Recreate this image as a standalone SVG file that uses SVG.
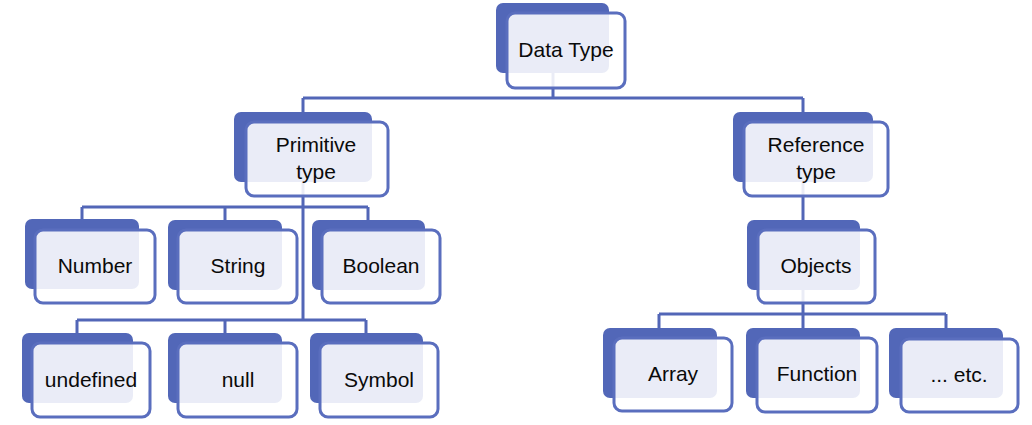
<svg xmlns="http://www.w3.org/2000/svg" width="1032" height="425" viewBox="0 0 1032 425">
  <style>
    .link { fill: none; stroke: #5266b7; stroke-width: 3; }
    .back { fill: #5267b8; }
    .front { fill: #ffffff; fill-opacity: 0.88; stroke: #5a6ebe; stroke-width: 3; }
    .label { font-family: "Liberation Sans", Arial, sans-serif; font-size: 21px; fill: #0a0a0a; text-anchor: middle; }
  </style>
  <rect width="1032" height="425" fill="#ffffff"/>

  <!-- tree connectors, drawn beneath the boxes -->
  <g id="connectors">
    <path class="link" d="M553 60 V98 M303 98 H803 M303 98 V113 M803 98 V113"/>
    <path class="link" d="M303 160 V320 M82 207 H368 M82 207 V221 M225 207 V221 M368 207 V221"/>
    <path class="link" d="M77 320 H366 M77 320 V334 M225 320 V334 M366 320 V334"/>
    <path class="link" d="M803 160 V221"/>
    <path class="link" d="M803 270 V314 M659 314 H946 M659 314 V329 M803 314 V329 M946 314 V329"/>
  </g>

  <g id="data-type">
    <rect class="back" x="496" y="3" width="113" height="70" rx="7"/>
    <rect class="front" x="507" y="13" width="118" height="75" rx="8"/>
    <text class="label" x="566" y="57">Data Type</text>
  </g>

  <g id="primitive-type">
    <rect class="back" x="234" y="112" width="138" height="70" rx="7"/>
    <rect class="front" x="246" y="122" width="142" height="74" rx="8"/>
    <text class="label" x="316" y="152">Primitive</text>
    <text class="label" x="316" y="179">type</text>
  </g>

  <g id="reference-type">
    <rect class="back" x="733" y="112" width="140" height="70" rx="7"/>
    <rect class="front" x="744" y="122" width="144" height="74" rx="8"/>
    <text class="label" x="816" y="152">Reference</text>
    <text class="label" x="816" y="179">type</text>
  </g>

  <g id="number">
    <rect class="back" x="25" y="219" width="114" height="70" rx="7"/>
    <rect class="front" x="35" y="230" width="120" height="73" rx="8"/>
    <text class="label" x="95" y="273">Number</text>
  </g>

  <g id="string">
    <rect class="back" x="168" y="220" width="114" height="70" rx="7"/>
    <rect class="front" x="178" y="230" width="119" height="73" rx="8"/>
    <text class="label" x="238" y="273">String</text>
  </g>

  <g id="boolean">
    <rect class="back" x="312" y="220" width="113" height="70" rx="7"/>
    <rect class="front" x="322" y="230" width="118" height="73" rx="8"/>
    <text class="label" x="381" y="273">Boolean</text>
  </g>

  <g id="objects">
    <rect class="back" x="747" y="220" width="113" height="70" rx="7"/>
    <rect class="front" x="758" y="230" width="117" height="73" rx="8"/>
    <text class="label" x="816" y="273">Objects</text>
  </g>

  <g id="undefined">
    <rect class="back" x="22" y="333" width="111" height="70" rx="7"/>
    <rect class="front" x="32" y="343" width="118" height="74" rx="8"/>
    <text class="label" x="91" y="387">undefined</text>
  </g>

  <g id="null">
    <rect class="back" x="168" y="333" width="114" height="70" rx="7"/>
    <rect class="front" x="178" y="343" width="119" height="74" rx="8"/>
    <text class="label" x="238" y="387">null</text>
  </g>

  <g id="symbol">
    <rect class="back" x="310" y="333" width="113" height="70" rx="7"/>
    <rect class="front" x="320" y="343" width="118" height="74" rx="8"/>
    <text class="label" x="379" y="387">Symbol</text>
  </g>

  <g id="array">
    <rect class="back" x="603" y="328" width="114" height="70" rx="7"/>
    <rect class="front" x="614" y="338" width="118" height="73" rx="8"/>
    <text class="label" x="673" y="381">Array</text>
  </g>

  <g id="function">
    <rect class="back" x="746" y="328" width="114" height="70" rx="7"/>
    <rect class="front" x="757" y="338" width="120" height="74" rx="8"/>
    <text class="label" x="817" y="381">Function</text>
  </g>

  <g id="etc">
    <rect class="back" x="889" y="328" width="114" height="70" rx="7"/>
    <rect class="front" x="901" y="339" width="117" height="73" rx="8"/>
    <text class="label" x="959" y="382">... etc.</text>
  </g>
</svg>
